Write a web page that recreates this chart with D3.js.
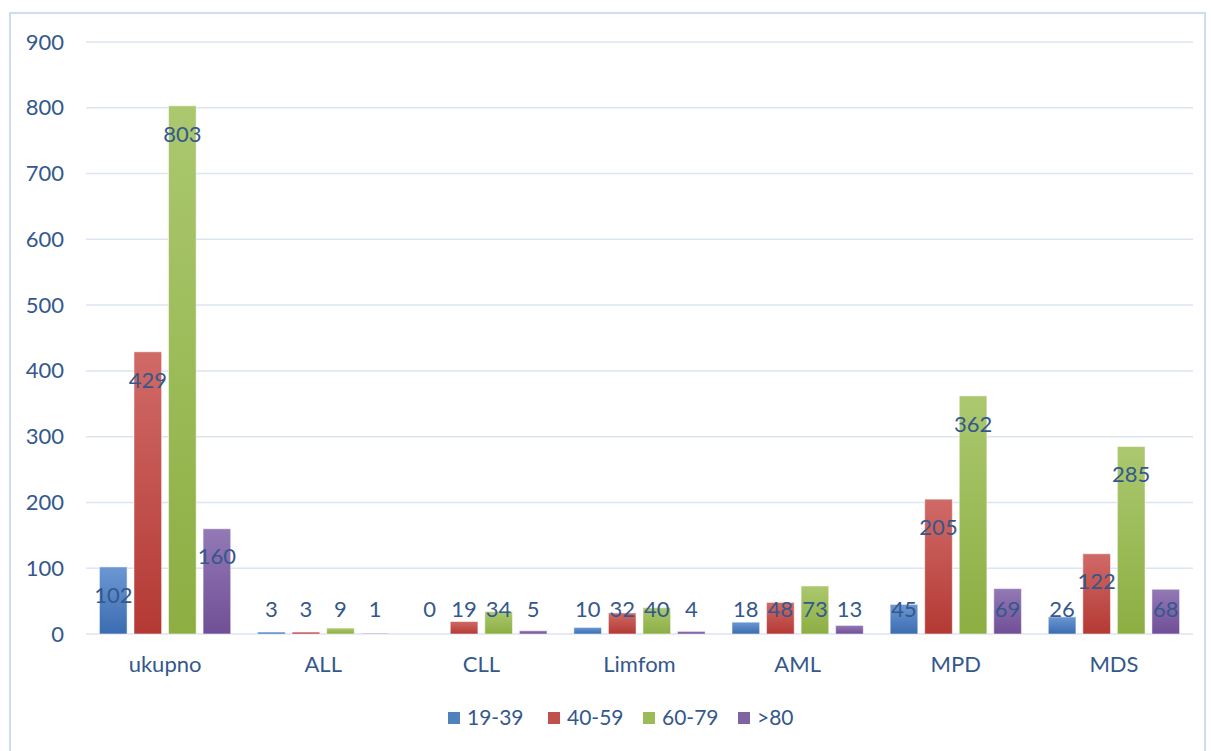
<!DOCTYPE html>
<html>
<head>
<meta charset="utf-8">
<script src="https://cdn.jsdelivr.net/npm/d3@7"></script>
<style>
  body { margin: 0; background: #fff; }
  text { font-family: Lato, "Open Sans", sans-serif; }
</style>
</head>
<body>
<div id="chart"></div>
<script>
var categories = ["ukupno", "ALL", "CLL", "Limfom", "AML", "MPD", "MDS"];
var seriesNames = ["19-39", "40-59", "60-79", ">80"];
var s1939 = [102, 3, 0, 10, 18, 45, 26];
var s4059 = [429, 3, 19, 32, 48, 205, 122];
var s6079 = [803, 9, 34, 40, 73, 362, 285];
var s80 = [160, 1, 5, 4, 13, 69, 68];
var yTicks = [0, 100, 200, 300, 400, 500, 600, 700, 800, 900];

var seriesValues = [s1939, s4059, s6079, s80];
var colors = [
    { top: "#6b98d4", bottom: "#3b6cb0", fill: "#4f81bd" },
    { top: "#d06a67", bottom: "#b43934", fill: "#c0504d" },
    { top: "#abc86f", bottom: "#8cae42", fill: "#9bbb59" },
    { top: "#9379b6", bottom: "#704f96", fill: "#8064a2" }
];
var textColor = "#34588c";

var w = 1211, h = 751;
var plotLeft = 86, plotRight = 1193, plotTop = 42, plotBottom = 634;

var svg = d3.select("#chart").append("svg")
    .attr("width", w)
    .attr("height", h);

// gradients
var defs = svg.append("defs");
colors.forEach(function (c, i) {
    var g = defs.append("linearGradient")
        .attr("id", "grad" + i)
        .attr("x1", 0).attr("y1", 0).attr("x2", 0).attr("y2", 1);
    g.append("stop").attr("offset", "0%").attr("stop-color", c.top);
    g.append("stop").attr("offset", "100%").attr("stop-color", c.bottom);
});

// outer border
svg.append("rect")
    .attr("x", 10).attr("y", 13)
    .attr("width", 1195).attr("height", 740)
    .attr("fill", "none")
    .attr("stroke", "#cddcef")
    .attr("stroke-width", 2);

var x0 = d3.scaleBand()
    .domain(categories)
    .range([plotLeft, plotRight])
    .paddingInner(0.17)
    .paddingOuter(0.085);

var x1 = d3.scaleBand()
    .domain(d3.range(seriesNames.length))
    .range([0, x0.bandwidth()])
    .paddingInner(0.2);

var y = d3.scaleLinear()
    .domain([0, 900])
    .range([plotBottom, plotTop]);

// gridlines
svg.append("g")
    .selectAll("line")
    .data(yTicks)
    .enter()
    .append("line")
    .attr("x1", plotLeft).attr("x2", plotRight)
    .attr("y1", d => y(d)).attr("y2", d => y(d))
    .attr("stroke", "#dbe5f3")
    .attr("stroke-width", 1.5);

// y axis labels
var yAxis = d3.axisLeft(y).tickValues(yTicks).tickSize(0).tickPadding(0);
var gy = svg.append("g")
    .attr("transform", `translate(64,0)`)
    .call(yAxis);
gy.select(".domain").remove();
gy.selectAll("text")
    .attr("fill", textColor)
    .attr("font-size", "22px")
    .attr("font-family", "Lato, sans-serif");

// x axis labels
var xAxis = d3.axisBottom(x0).tickSize(0).tickPadding(0);
var gx = svg.append("g")
    .attr("transform", `translate(0,${plotBottom + 22})`)
    .call(xAxis);
gx.select(".domain").remove();
gx.selectAll("text")
    .attr("fill", textColor)
    .attr("font-size", "22px")
    .attr("font-family", "Lato, sans-serif");

// bars
var groups = svg.append("g")
    .selectAll("g")
    .data(categories)
    .enter()
    .append("g")
    .attr("transform", d => `translate(${x0(d)},0)`);

var cells = groups.selectAll("g.cell")
    .data((d, ci) => seriesValues.map((s, si) => ({ si: si, v: s[ci] })))
    .enter()
    .append("g")
    .attr("class", "cell");

cells.append("rect")
    .attr("x", d => x1(d.si))
    .attr("y", d => y(d.v))
    .attr("width", x1.bandwidth())
    .attr("height", d => plotBottom - y(d.v))
    .attr("fill", d => "url(#grad" + d.si + ")")
    .attr("stroke", "#ffffff")
    .attr("stroke-opacity", 0.5)
    .attr("stroke-width", 1);

cells.append("text")
    .attr("x", d => x1(d.si) + x1.bandwidth() / 2)
    .attr("y", d => Math.min(y(d.v) + 28, 609))
    .attr("dy", "0.35em")
    .attr("text-anchor", "middle")
    .attr("fill", textColor)
    .attr("font-size", "22px")
    .text(d => d.v);

// legend
var legendX = [448, 548, 643, 738];
var legend = svg.append("g")
    .selectAll("g")
    .data(seriesNames)
    .enter()
    .append("g")
    .attr("transform", (d, i) => `translate(${legendX[i]},712)`);

legend.append("rect")
    .attr("width", 12).attr("height", 12)
    .attr("fill", (d, i) => colors[i].fill);

legend.append("text")
    .attr("x", 19).attr("y", 6)
    .attr("dy", "0.35em")
    .attr("fill", textColor)
    .attr("font-size", "21px")
    .text(d => d);
</script>
</body>
</html>
